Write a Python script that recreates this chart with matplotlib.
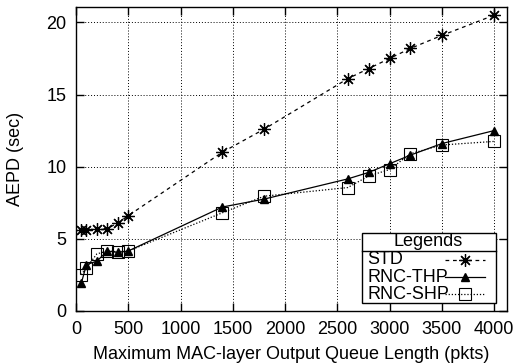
import matplotlib
matplotlib.use("Agg")
import matplotlib.pyplot as plt
from matplotlib.lines import Line2D
from matplotlib.patches import Rectangle

plt.rcParams["font.family"] = ["Liberation Sans", "DejaVu Sans"]
plt.rcParams["font.size"] = 13

# Queue lengths (pkts)
queue_len = [50, 100, 200, 300, 400, 500, 1400, 1800, 2600, 2800, 3000, 3200, 3500, 4000]

# AEPD (sec)
std = [5.6, 5.6, 5.7, 5.7, 6.1, 6.6, 11.0, 12.6, 16.1, 16.8, 17.5, 18.2, 19.1, 20.5]
rnc_thp = [1.9, 3.2, 3.45, 4.15, 4.05, 4.15, 7.2, 7.75, 9.15, 9.6, 10.2, 10.8, 11.6, 12.5]
rnc_shp = [2.5, 3.0, 3.95, 4.15, 4.1, 4.15, 6.8, 7.95, 8.55, 9.35, 9.8, 10.9, 11.5, 11.75]

labels = ["STD", "RNC-THP", "RNC-SHP"]
styles = [
    dict(linestyle=(0, (3, 3)), marker=(8, 2, 0), markersize=9, markeredgewidth=0.9),
    dict(linestyle="-", marker="^", markersize=6),
    dict(linestyle=(0, (1, 1.5)), marker="s", markersize=8,
         markerfacecolor="none", markeredgewidth=0.8),
]

fig = plt.figure(figsize=(5.17, 3.64), dpi=100)
ax = fig.add_axes([0.147, 0.146, 0.833, 0.834])

for ys, lab, st in zip([std, rnc_thp, rnc_shp], labels, styles):
    ax.plot(queue_len, ys, color="black", linewidth=0.9, label=lab, **st)

ax.set_xlim(0, 4120)
ax.set_ylim(0, 21.05)
ax.set_xticks([0, 500, 1000, 1500, 2000, 2500, 3000, 3500, 4000])
ax.set_yticks([0, 5, 10, 15, 20])
ax.tick_params(direction="in", top=True, right=True, length=6, width=1, pad=7)
ax.grid(True, color="black", linestyle=(0, (1, 2)), linewidth=0.7)
for s in ax.spines.values():
    s.set_linewidth(1)

ax.set_xlabel("Maximum MAC-layer Output Queue Length (pkts)", labelpad=6)
ax.set_ylabel("AEPD (sec)", labelpad=16)

# gnuplot-style legend box: title cell on top, labels left, samples right
bx0, bx1, by0, by1, sep_y = 0.663, 0.9745, 0.0254, 0.2558, 0.1986
ax.add_patch(Rectangle((bx0, by0), bx1 - bx0, by1 - by0, transform=ax.transAxes,
                       facecolor="white", edgecolor="black", linewidth=1, zorder=5))
ax.add_line(Line2D([bx0, bx1], [sep_y, sep_y], transform=ax.transAxes,
                   color="black", linewidth=1, zorder=6))
ax.text((bx0 + bx1) / 2, 0.228, "Legends", transform=ax.transAxes,
        ha="center", va="center", zorder=6)
for row_y, lab, st in zip([0.168, 0.111, 0.054], labels, styles):
    ax.text(0.676, row_y, lab, transform=ax.transAxes, ha="left", va="center", zorder=6)
    ax.add_line(Line2D([0.857, 0.9035, 0.95], [row_y, row_y, row_y],
                       transform=ax.transAxes, color="black", linewidth=0.9,
                       markevery=[1], zorder=6, **st))

fig.savefig("out.png", dpi=100)
